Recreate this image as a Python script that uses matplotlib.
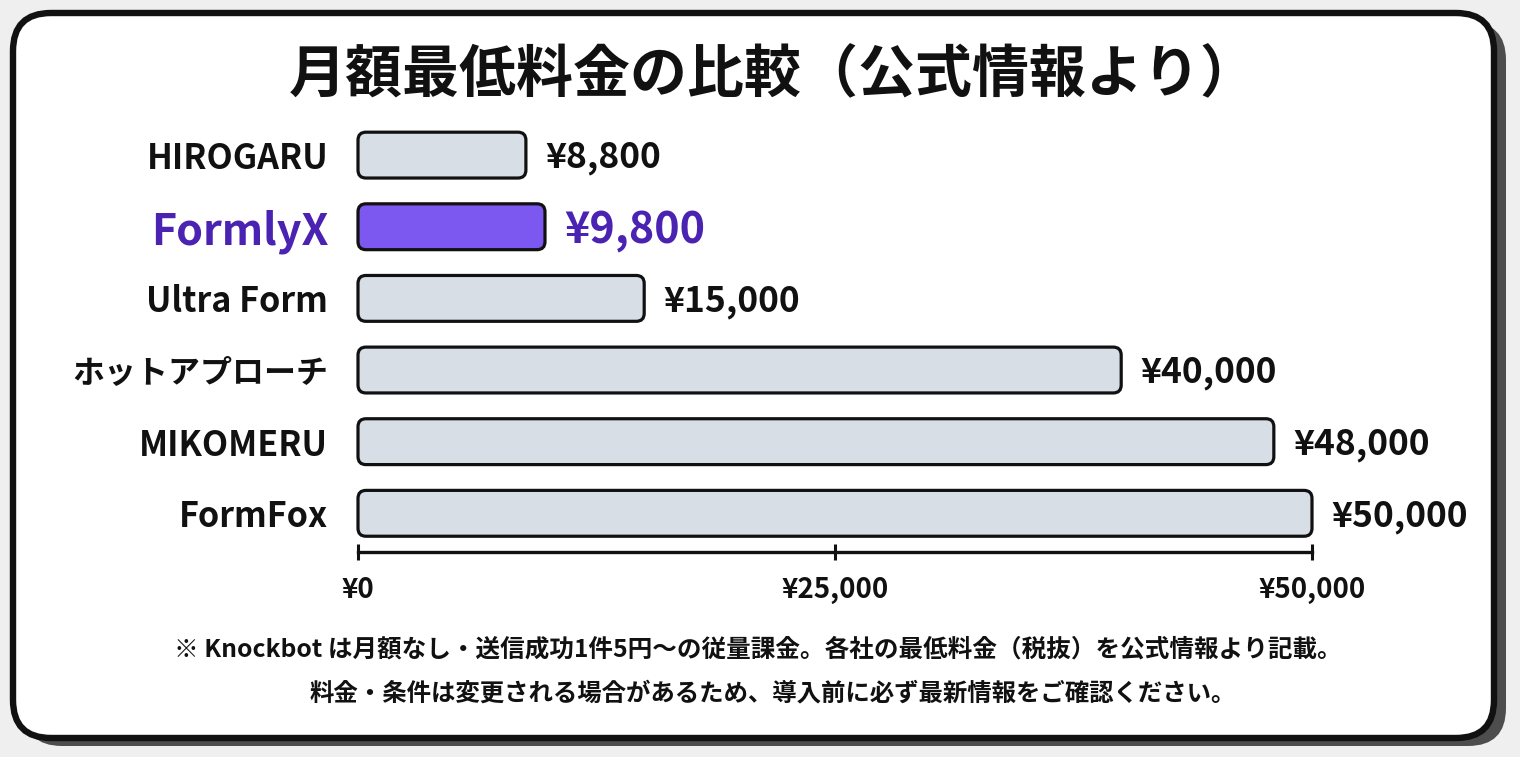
import matplotlib
matplotlib.use("Agg")
import matplotlib.pyplot as plt
from matplotlib.patches import FancyBboxPatch

# ---- data ----
categories = ["HIROGARU", "FormlyX", "Ultra Form", "ホットアプローチ", "MIKOMERU", "FormFox"]
prices = [8800, 9800, 15000, 40000, 48000, 50000]
highlight = "FormlyX"
tick_values = [0, 25000, 50000]
tick_labels = ["¥0", "¥25,000", "¥50,000"]
title = "月額最低料金の比較（公式情報より）"
notes = [
    "※ Knockbot は月額なし・送信成功1件5円〜の従量課金。各社の最低料金（税抜）を公式情報より記載。",
    "料金・条件は変更される場合があるため、導入前に必ず最新情報をご確認ください。",
]

# ---- style ----
FONT = ["Noto Sans CJK JP", "DejaVu Sans"]
plt.rcParams["font.family"] = FONT
WT = "bold"
GRAY = "#d8dee6"
PURPLE_BAR = "#7d58f0"
PURPLE_TXT = "#4a23b2"
INK = "#111111"

W, H = 1520, 757
fig = plt.figure(figsize=(W / 100, H / 100), dpi=100, facecolor="#efefef")

bg = fig.add_axes([0, 0, 1, 1], zorder=0)
bg.set_xlim(0, W)
bg.set_ylim(H, 0)
bg.axis("off")
bg.add_patch(FancyBboxPatch((24, 22), 1482, 724, boxstyle="round,pad=0,rounding_size=38",
                            fc="#4d4d4d", ec="none"))
bg.add_patch(FancyBboxPatch((13, 13), 1481, 725, boxstyle="round,pad=0,rounding_size=38",
                            fc="white", ec=INK, lw=4.6))
bg.text(773, 75, title, ha="center", va="center", fontsize=41, fontweight=WT, color=INK)
bg.text(758, 650, notes[0], ha="center", va="center", fontsize=17.7, fontweight=WT, color=INK)
bg.text(773, 693, notes[1], ha="center", va="center", fontsize=17.6, fontweight=WT, color=INK)

left, right = 358 / W, 1312 / W
bottom, top = 1 - 552 / H, 1 - 120 / H
ax = fig.add_axes([left, bottom, right - left, top - bottom], zorder=1)
ax.set_facecolor("none")
n = len(categories)
ax.set_xlim(0, 50000)
ax.set_ylim(n - 1 + 0.54, -0.49)

bars = ax.barh(range(n), prices, height=0.64, color="none", edgecolor="none")

fig.canvas.draw()
inv = ax.transData.inverted()
(x0, y0), (x1, y1) = inv.transform([(0, 0), (1, 1)])
xu_per_px = abs(x1 - x0)
yu_per_px = abs(y1 - y0)
aspect = yu_per_px / xu_per_px
r = 8 * xu_per_px

for cat, rect in zip(categories, bars.patches):
    fc = PURPLE_BAR if cat == highlight else GRAY
    ax.add_patch(FancyBboxPatch((rect.get_x(), rect.get_y()), rect.get_width(), rect.get_height(),
                                boxstyle=f"round,pad=0,rounding_size={r}", mutation_aspect=aspect,
                                fc=fc, ec=INK, lw=2.3, zorder=3, clip_on=False))

for i, (cat, v) in enumerate(zip(categories, prices)):
    hl = cat == highlight
    ax.annotate(f"¥{v:,}", xy=(v, i), xytext=(14, -2), textcoords="offset points",
                ha="left", va="center", fontsize=31 if hl else 25.5, fontweight=WT,
                color=PURPLE_TXT if hl else INK, annotation_clip=False)

ax.set_yticks(range(n))
ax.set_yticklabels(categories)
for lab in ax.get_yticklabels():
    lab.set_fontweight(WT)
    if lab.get_text() == highlight:
        lab.set_color(PURPLE_TXT)
        lab.set_fontsize(31)
    else:
        lab.set_color(INK)
        lab.set_fontsize(24.5 if lab.get_text().isascii() else 23)
ax.tick_params(axis="y", left=False, pad=18)

ax.set_xticks(tick_values)
ax.set_xticklabels(tick_labels, fontsize=20, fontweight=WT, color=INK)
ax.tick_params(axis="x", direction="inout", length=11, width=2.2, color=INK, pad=12)

for s in ["top", "right", "left"]:
    ax.spines[s].set_visible(False)
ax.spines["bottom"].set_linewidth(2.4)
ax.spines["bottom"].set_color(INK)

fig.savefig("out.png", dpi=100, facecolor=fig.get_facecolor())
